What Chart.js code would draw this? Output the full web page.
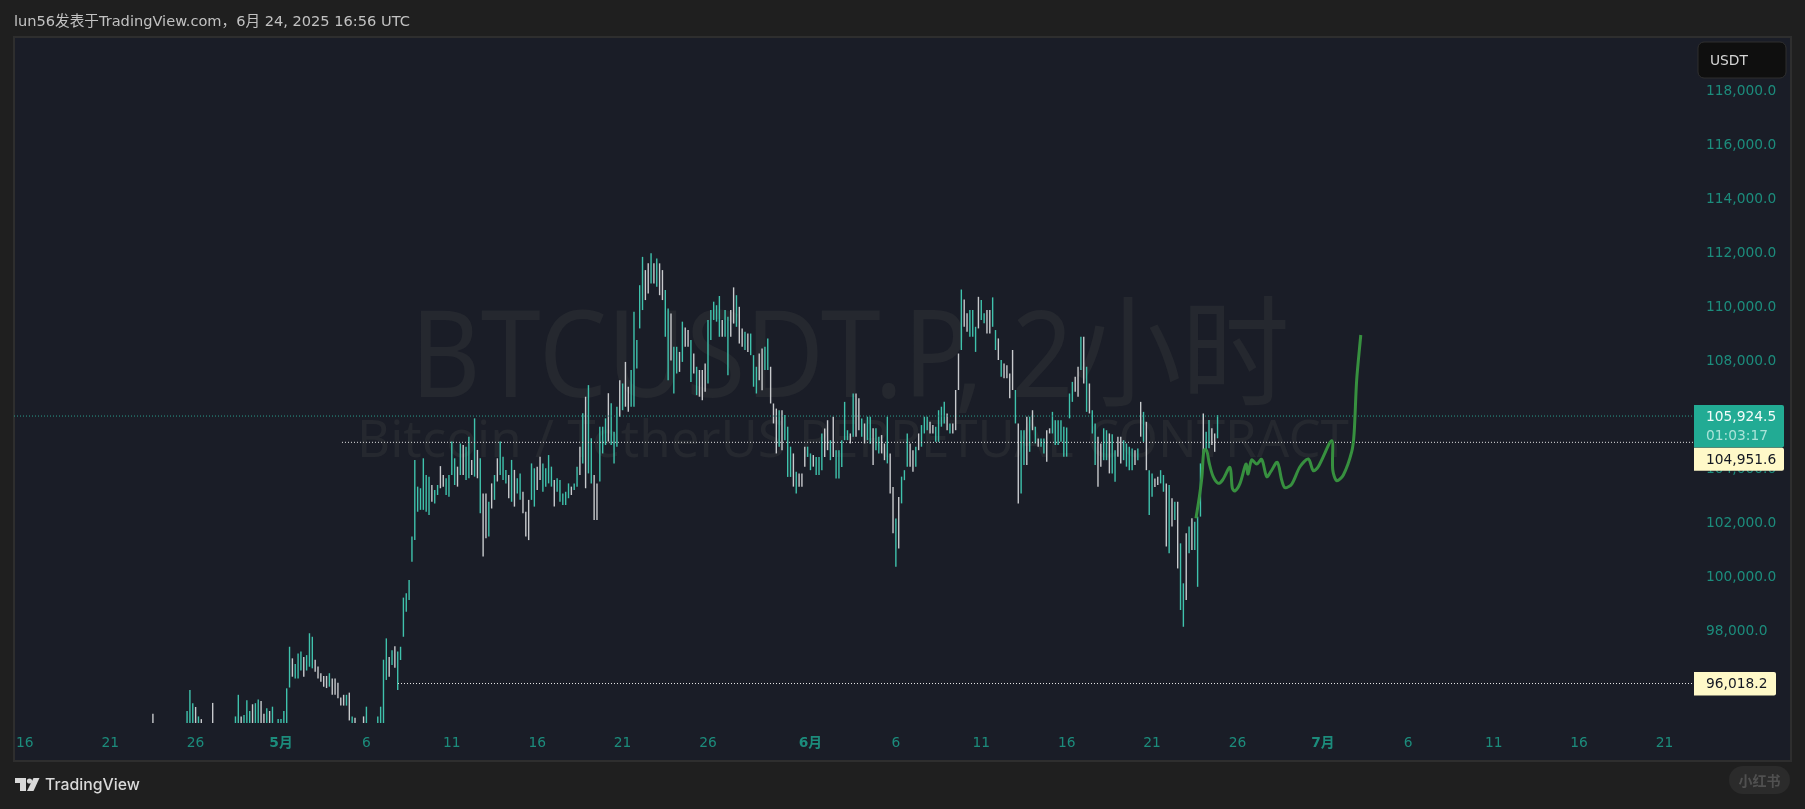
<!DOCTYPE html>
<html>
<head>
<meta charset="utf-8">
<script src="https://cdn.jsdelivr.net/npm/chart.js@4"></script>
<style>
  html, body { margin: 0; padding: 0; background: #1f1f1f; }
  #wrap { width: 1805px; height: 809px; }
</style>
</head>
<body>
<div id="wrap"><canvas id="chart"></canvas></div>
<script>
// 4h bars, one row = one day, prices in thousands
const firstBarDay = -7.5; // days from May 1
const highs = [
  94.9,94.3,94.2,94.3,94.2,94.3,
  94.3,94.2,94.3,94.4,94.4,94.5,
  95.0,95.78,95.29,95.15,94.8,94.7,
  94.4,94.4,94.4,95.3,94.4,94.3,
  94.3,94.3,94.4,94.4,94.4,94.8,
  95.6,94.8,94.85,95.4,95.0,95.25,
  95.29,95.43,95.37,94.9,95.1,95.0,
  95.16,94.4,94.7,94.7,95.0,95.84,
  97.38,96.95,96.74,97.13,97.2,97.0,
  97.07,97.88,97.75,96.9,96.65,96.4,
  96.3,96.3,96.4,96.2,96.2,96.05,
  95.5,95.6,95.6,95.68,94.8,94.75,
  94.5,94.5,94.8,95.16,94.55,94.5,
  94.5,94.8,95.16,96.9,97.69,97.0,
  97.25,97.4,97.2,97.38,99.2,99.36,
  99.85,101.46,104.3,103.31,103.25,104.36,
  103.74,103.68,103.37,103.19,103.37,104.07,
  103.74,103.62,103.74,104.98,104.36,104.05,
  104.91,104.85,104.79,105.16,104.3,105.84,
  104.67,104.36,103.06,103.06,102.75,103.43,
  103.74,104.36,104.98,104.42,103.93,103.74,
  104.3,103.93,103.62,103.8,103.12,102.38,
  102.82,104.17,103.99,104.05,104.42,104.17,
  103.99,104.48,104.05,103.56,103.62,103.56,
  103.06,103.12,103.43,103.31,103.43,104.05,
  104.79,106.03,106.64,107.07,105.1,103.74,
  103.43,105.53,105.53,105.84,106.77,106.4,
  105.34,106.27,107.25,107.13,107.93,107.01,
  107.63,109.79,108.74,110.77,111.82,111.33,
  111.58,111.95,111.58,111.76,111.58,111.33,
  110.59,109.91,109.72,108.49,108.49,108.3,
  109.42,109.2,109.11,108.74,108.24,107.75,
  107.63,107.63,107.87,109.48,109.85,110.16,
  110.03,110.37,109.48,109.85,109.6,109.85,
  110.69,110.4,109.97,109.17,109.05,108.98,
  108.98,108.18,107.75,108.24,108.43,108.49,
  108.8,107.75,106.39,106.2,106.14,106.14,
  105.96,105.53,104.79,104.54,103.86,103.8,
  103.8,104.79,104.79,104.54,104.48,104.41,
  104.41,105.28,105.46,105.77,105.03,105.9,
  104.66,104.66,105.03,106.45,105.4,105.28,
  106.76,106.76,106.58,105.83,105.65,105.9,
  105.9,105.47,105.47,105.16,105.22,104.91,
  105.9,104.54,103.3,102.13,102.93,103.68,
  103.92,105.28,104.91,104.66,104.79,105.28,
  105.59,105.9,105.9,105.71,105.59,105.53,
  106.14,106.27,106.45,106.02,105.65,105.65,
  106.89,108.24,110.61,110.24,109.73,109.85,
  109.85,109.23,110.34,110.22,109.73,109.85,
  109.85,110.32,109.11,108.8,108.0,107.87,
  107.81,107.5,108.37,106.89,105.65,105.4,
  105.4,105.9,105.9,106.14,105.53,105.09,
  105.09,105.09,105.4,105.47,106.08,105.77,
  105.77,105.77,105.53,105.5,106.76,107.19,
  107.38,107.75,108.86,108.86,107.75,107.13,
  106.14,105.65,105.16,104.91,105.47,105.4,
  105.28,105.25,104.66,105.16,105.16,105.03,
  104.91,104.79,104.72,104.66,104.72,106.45,
  106.08,105.71,103.92,103.8,103.61,103.68,
  103.92,103.74,103.43,103.37,102.88,102.75,
  102.75,101.21,99.73,101.58,101.83,102.14,
  102.01,102.2,104.17,106.02,105.34,105.78,
  105.47,105.28,105.96
];
const lows = [
  94.2,94.0,94.1,94.0,93.9,94.0,
  94.0,93.9,94.0,94.1,94.0,94.1,
  94.2,94.3,94.2,94.1,94.2,94.3,
  94.1,94.0,94.0,94.3,94.1,94.0,
  93.9,94.0,94.0,94.1,94.0,94.2,
  94.3,94.2,94.1,94.2,94.3,94.2,
  94.4,94.3,94.2,94.2,94.3,94.2,
  94.3,94.0,94.2,94.3,94.4,94.5,
  95.87,96.27,96.2,96.2,96.5,96.27,
  96.5,96.64,96.58,96.45,96.2,96.08,
  95.9,95.85,95.9,95.6,95.6,95.47,
  95.2,95.2,95.2,94.65,94.3,94.4,
  94.2,94.1,94.3,94.4,94.2,94.1,
  94.1,94.3,94.5,94.5,96.15,96.27,
  96.7,96.6,95.78,96.89,97.75,98.68,
  99.11,100.53,101.33,102.38,102.45,102.45,
  102.38,102.26,102.75,102.69,103.0,103.25,
  103.31,103.0,102.94,103.74,103.37,103.31,
  103.74,103.74,103.56,103.62,103.74,103.68,
  103.62,102.32,100.72,101.4,101.46,102.5,
  102.82,103.5,103.74,103.56,103.43,102.88,
  102.75,102.57,103.06,102.82,102.32,101.46,
  101.33,102.82,102.57,103.19,103.56,103.12,
  103.31,103.43,103.31,102.57,103.12,102.75,
  102.63,102.63,102.88,103.0,103.19,103.31,
  103.74,104.17,103.25,103.8,103.43,102.07,
  102.07,103.5,104.54,104.85,104.98,104.85,
  104.17,104.79,105.9,106.14,106.27,106.08,
  106.27,106.27,107.69,109.17,109.85,110.22,
  110.46,110.83,110.83,110.71,110.4,110.22,
  108.86,107.25,107.98,106.76,107.5,107.56,
  107.93,108.49,108.49,107.19,107.5,106.7,
  106.64,106.51,106.82,107.13,108.74,109.48,
  109.42,108.86,108.86,108.86,107.44,108.86,
  109.35,109.23,108.61,108.49,108.37,108.3,
  108.18,107.01,106.76,107.25,106.88,107.63,
  107.63,106.39,105.65,104.54,104.79,104.66,
  105.03,103.67,103.67,103.31,103.06,103.31,
  103.31,104.05,104.41,103.92,104.05,103.74,
  103.74,103.92,104.41,104.66,104.29,104.41,
  103.61,103.61,104.04,105.03,105.03,104.91,
  105.16,105.16,105.4,105.16,104.91,105.03,
  104.9,104.11,104.66,104.54,104.54,104.29,
  104.17,103.06,101.58,100.34,101.02,102.69,
  103.55,104.05,104.05,103.86,104.05,104.66,
  104.79,105.28,105.4,105.28,105.28,104.97,
  104.97,105.53,105.65,105.4,105.28,105.28,
  105.4,106.89,108.37,109.23,109.05,108.86,
  108.86,108.3,109.17,109.48,109.36,108.98,
  108.98,109.23,108.37,108.0,107.38,107.32,
  107.32,106.58,106.89,105.65,102.69,103.06,
  104.11,104.11,104.6,105.4,104.91,104.79,
  104.79,104.54,104.23,105.28,105.28,104.85,
  104.85,104.97,104.42,104.42,105.84,106.45,
  106.82,106.64,107.63,107.13,106.08,106.02,
  105.28,104.11,103.31,104.05,104.29,104.29,
  103.8,103.8,103.49,104.42,104.17,104.29,
  104.05,103.92,103.92,104.11,104.29,105.16,
  104.97,103.92,102.26,102.94,103.3,103.37,
  103.43,103.12,101.09,100.84,101.83,102.07,
  100.28,98.74,98.12,99.11,100.84,100.96,
  100.96,99.6,102.2,104.54,104.67,104.73,
  104.85,104.6,105.1
];
// u = teal up bar, d = grey down bar, one string per day
const barDirs = [
  "dddddd","ddduuu","uuudud","ddudud","ddduuu","uduuud","uuddud","uduuuu",
  "uduuud","uuuddd","dduddd","ddudud","ddduud","duuuud","uduuuu","uuuuuu",
  "uuduud","duuuud","uduudu","duddud","uduuud","uduudd","duuddu","uuuduu",
  "uuuduu","duduud","duuudu","uududd","uuuuud","dududd","uuduud","uddudu",
  "ddduuu","uuduud","duddud","uuuddu","udddud","uuudud","dduudu","uuddud",
  "uuuuud","uddudu","uduudd","uddudu","uuddud","uuuddu","uuudud","dduddu",
  "uuduud","duudud","dddudu","ududud","uudduu","uuuuuu","ddudud","uudduu",
  "duuddu","uuudud","uduudd","uududu","duudud","uuuduu","dduduu","uud"
].join("").split("");

// green projection drawn on the chart
const sketchDays = [
  53.57,53.77,53.92,54.04,54.2,54.35,54.58,54.88,55.13,55.56,55.7,55.85,56.15,56.5,56.62,56.83,57.13,57.42,
  57.71,57.95,58.33,58.59,58.78,59.18,59.66,60.15,60.44,60.73,61.52,61.58,61.81,62.2,62.69,62.83,62.98,63.22
];
const sketchPrices = [
  102137,102937,103678,104667,104641,104174,103678,103433,103556,104026,103248,103148,103433,104148,103778,104296,104148,104322,
  103678,103863,104211,103556,103270,103407,104048,104333,103900,104048,105011,103926,103530,103741,104604,105285,107259,108926
];

const lastPrice = 105924.5;
const countdown = "01:03:17";
const levelHigh = 104951.6;
const levelLow = 96018.2;
const levelHighStartDay = 3.57;
const levelLowStartDay = 6.85;

const priceTicks = [98000,100000,102000,104000,106000,108000,110000,112000,114000,116000,118000];
const dayTicks = [-15,-10,-5,0,5,10,15,20,25,31,36,41,46,51,56,61,66,71,76,81];
const dayTickLabels = ["16","21","26","5月","6","11","16","21","26","6月","6","11","16","21","26","7月","6","11","16","21"];

const dayMin = -15.633;
const dayMax = 82.73;
const priceMin = 94556;
const priceMax = 119963;

const UI_FONT = '"DejaVu Sans", "Noto Sans CJK SC", sans-serif';
const AXIS_COLOR = "#1c8c7c";
const UP = "#3fc2ac";
const DOWN = "#c8cacd";

const fmtPrice = v => v.toLocaleString("en-US", { minimumFractionDigits: 1, maximumFractionDigits: 1 });

const barData = highs.map((h, i) => ({ x: firstBarDay + i / 6, y: [lows[i] * 1000, h * 1000] }));
const barColors = barDirs.map(d => (d === "u" ? UP : DOWN));

function priceTag(ctx, x, yTop, w, h, fill, radius) {
  ctx.fillStyle = fill;
  ctx.beginPath();
  ctx.roundRect(x, yTop, w, h, [0, radius, radius, 0]);
  ctx.fill();
}

const tvFrame = {
  id: "tvFrame",
  beforeDraw(chart) {
    const ctx = chart.ctx;
    ctx.save();
    ctx.fillStyle = "#1f1f1f";
    ctx.fillRect(0, 0, chart.width, chart.height);
    ctx.fillStyle = "#2e2e2e";
    ctx.fillRect(13, 36, 1779, 726);
    ctx.fillStyle = "#1a1d27";
    ctx.fillRect(15, 38, 1775, 722);
    ctx.restore();
  },
  beforeDatasetsDraw(chart) {
    // symbol watermark sits under the bars
    const ctx = chart.ctx;
    ctx.save();
    ctx.fillStyle = "#25282f";
    ctx.textAlign = "center";
    ctx.textBaseline = "alphabetic";
    ctx.save();
    ctx.translate(850, 397);
    ctx.scale(0.9, 1);
    ctx.font = '400 120px "Noto Sans", "Noto Sans CJK SC", sans-serif';
    ctx.fillText("BTCUSDT.P, 2小时", 0, 0);
    ctx.restore();
    ctx.font = '400 51px "Noto Sans", sans-serif';
    ctx.fillText("Bitcoin / TetherUS PERPETUAL CONTRACT", 853, 457);
    ctx.restore();
  },
  afterDraw(chart) {
    const ctx = chart.ctx;
    const y = chart.scales.y;
    const font = "13.8px " + UI_FONT;
    ctx.save();
    ctx.textBaseline = "middle";
    ctx.textAlign = "left";

    // last price tag with countdown
    const lastY = y.getPixelForValue(lastPrice);
    priceTag(ctx, 1694, lastY - 11, 90, 42.5, "#22ab94", 2);
    ctx.font = font;
    ctx.fillStyle = "#f2fbf9";
    ctx.fillText(fmtPrice(lastPrice), 1706, lastY + 1);
    ctx.fillStyle = "#a9e3d8";
    ctx.fillText(countdown, 1706, lastY + 20.5);

    // measure tool levels
    const highY = y.getPixelForValue(levelHigh);
    priceTag(ctx, 1694, highY + 5.5, 90, 23, "#fff9c8", 2);
    ctx.fillStyle = "#131722";
    ctx.fillText(fmtPrice(levelHigh), 1706, highY + 18);

    const lowY = y.getPixelForValue(levelLow);
    priceTag(ctx, 1694, lowY - 11.5, 82, 23.5, "#fff9c8", 2);
    ctx.fillStyle = "#131722";
    ctx.fillText(fmtPrice(levelLow), 1706, lowY + 1);

    // currency button
    ctx.fillStyle = "#0f0f0f";
    ctx.strokeStyle = "#2f2f2f";
    ctx.lineWidth = 1;
    ctx.beginPath();
    ctx.roundRect(1698, 42, 88, 36, 6);
    ctx.fill();
    ctx.stroke();
    ctx.fillStyle = "#d6d6d6";
    ctx.fillText("USDT", 1710, 61.5);

    // footer logo
    ctx.fillStyle = "#d9d9d9";
    ctx.beginPath();
    ctx.moveTo(15, 778); ctx.lineTo(26, 778); ctx.lineTo(26, 791); ctx.lineTo(20, 791);
    ctx.lineTo(20, 783); ctx.lineTo(15, 783);
    ctx.closePath();
    ctx.fill();
    ctx.beginPath();
    ctx.arc(29.5, 781, 2.6, 0, Math.PI * 2);
    ctx.fill();
    ctx.beginPath();
    ctx.moveTo(33.5, 778); ctx.lineTo(39.5, 778); ctx.lineTo(33.5, 791); ctx.lineTo(27, 791);
    ctx.closePath();
    ctx.fill();
    ctx.font = '500 15.8px Inter, "Noto Sans", sans-serif';
    ctx.fillText("TradingView", 45, 785.5);

    // xiaohongshu stamp
    ctx.fillStyle = "#2b2b2b";
    ctx.beginPath();
    ctx.roundRect(1729, 766, 61, 28, 14);
    ctx.fill();
    ctx.fillStyle = "#505050";
    ctx.textAlign = "center";
    ctx.font = 'bold 14px "Noto Sans CJK SC", sans-serif';
    ctx.fillText("小红书", 1759.5, 780.5);
    ctx.restore();
  }
};

const config = {
  type: "bar",
  data: {
    datasets: [
      {
        type: "line",
        data: sketchDays.map((d, i) => ({ x: d, y: sketchPrices[i] })),
        borderColor: "#37903f",
        borderWidth: 3,
        tension: 0.3,
        pointRadius: 0,
        order: 1
      },
      {
        type: "line",
        data: [{ x: dayMin, y: lastPrice }, { x: dayMax, y: lastPrice }],
        borderColor: "#2a9d8c",
        borderWidth: 1,
        borderDash: [1, 2],
        pointRadius: 0,
        order: 2
      },
      {
        type: "line",
        data: [{ x: levelHighStartDay, y: levelHigh }, { x: dayMax, y: levelHigh }],
        borderColor: "#e8e8e8",
        borderWidth: 1,
        borderDash: [1, 2],
        pointRadius: 0,
        order: 2
      },
      {
        type: "line",
        data: [{ x: levelLowStartDay, y: levelLow }, { x: dayMax, y: levelLow }],
        borderColor: "#e8e8e8",
        borderWidth: 1,
        borderDash: [1, 2],
        pointRadius: 0,
        order: 2
      },
      {
        data: barData,
        backgroundColor: barColors,
        barThickness: 1.4,
        inflateAmount: 0,
        order: 3
      }
    ]
  },
  plugins: [tvFrame],
  options: {
    responsive: true,
    maintainAspectRatio: false,
    animation: false,
    layout: { padding: { left: 14, right: 15, top: 0, bottom: 49 } },
    plugins: {
      legend: { display: false },
      tooltip: { enabled: false },
      title: {
        display: true,
        text: "lun56发表于TradingView.com，6月 24, 2025 16:56 UTC",
        align: "start",
        color: "#c2c2c2",
        font: { family: UI_FONT, size: 14.6, weight: "normal", lineHeight: 1.2 },
        padding: { top: 13, bottom: 6.48 }
      }
    },
    scales: {
      x: {
        type: "linear",
        min: dayMin,
        max: dayMax,
        offset: false,
        grid: { display: false, drawTicks: false },
        border: { display: false },
        afterBuildTicks: axis => { axis.ticks = dayTicks.map(v => ({ value: v })); },
        afterFit: axis => { axis.height = 37; },
        ticks: {
          autoSkip: false,
          maxRotation: 0,
          padding: 12,
          color: AXIS_COLOR,
          font: ctx => ({
            family: UI_FONT,
            size: 13.8,
            weight: /月/.test(dayTickLabels[ctx.index]) ? "bold" : "normal"
          }),
          callback: (v, i) => dayTickLabels[i]
        }
      },
      y: {
        position: "right",
        min: priceMin,
        max: priceMax,
        grid: { display: false, drawTicks: false },
        border: { display: false },
        afterBuildTicks: axis => { axis.ticks = priceTicks.map(v => ({ value: v })); },
        afterFit: axis => { axis.width = 96; },
        ticks: {
          padding: 12,
          labelOffset: 1,
          color: AXIS_COLOR,
          font: { family: UI_FONT, size: 13.8 },
          callback: v => fmtPrice(v)
        }
      }
    }
  }
};

new Chart(document.getElementById("chart"), config);
</script>
</body>
</html>
